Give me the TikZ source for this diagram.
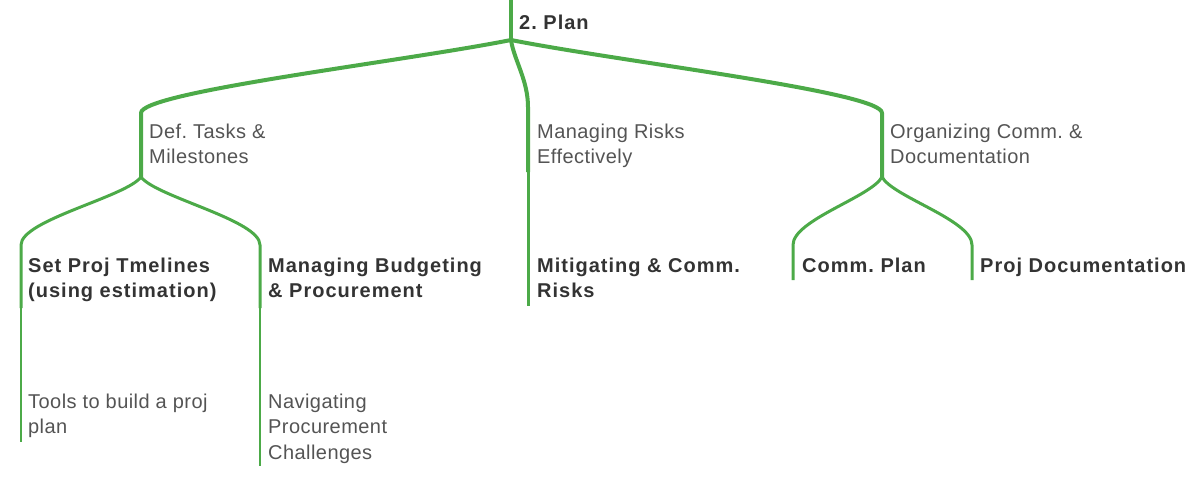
\documentclass[tikz,border=0pt]{standalone}
\usepackage{fontspec}
\setmainfont{Liberation Sans}
\newfontfamily\headfont{Liberation Sans}[LetterSpace=5]
\newfontfamily\softfont{Liberation Sans}[LetterSpace=2.2]
\frenchspacing

\definecolor{branch}{RGB}{76,170,72}
\definecolor{headtext}{RGB}{51,51,51}
\definecolor{softtext}{RGB}{84,84,84}

\tikzset{
  topic/.style={anchor=north west, inner sep=0pt, align=left, text=headtext,
    font=\headfont\fontsize{20}{25.5}\selectfont\bfseries},
  subtopic/.style={topic, text=softtext, font=\softfont\fontsize{20}{25.5}\selectfont},
  rootline/.style={draw=branch, line width=4pt, line join=round},
  midline/.style={draw=branch, line width=3pt, line join=round},
  leafline/.style={draw=branch, line width=2pt}
}

\begin{document}
\begin{tikzpicture}[x=1pt, y=-1pt]
        \useasboundingbox (0,0) rectangle (1200,482);

        % junctions and ends of the branches
        \coordinate (top) at (511,0);
        \coordinate (plan-j) at (511,40);
        \coordinate (tasks-a) at (141,113);
        \coordinate (tasks-j) at (141,177);
        \coordinate (risks-a) at (528,107);
        \coordinate (risks-j) at (528,172);
        \coordinate (docs-a) at (882,113);
        \coordinate (docs-j) at (882,177);
        \coordinate (timeline-a) at (21,245);
        \coordinate (timeline-j) at (21,308);
        \coordinate (budget-a) at (260,245);
        \coordinate (budget-j) at (260,308);
        \coordinate (mitigate-j) at (528,306);
        \coordinate (commplan-a) at (793,245);
        \coordinate (commplan-j) at (793,280);
        \coordinate (projdoc-a) at (972,245);
        \coordinate (projdoc-j) at (972,280);
        \coordinate (tools-j) at (21,442);
        \coordinate (navigate-j) at (260,466);

        % first level
        \draw[rootline] (top) -- (plan-j);
        \draw[rootline] (plan-j) .. controls +(-111,22) and +(0,-21) .. (tasks-a) -- (tasks-j);
        \draw[rootline] (plan-j) .. controls +(3,20) and +(0,-27) .. (risks-a) -- (risks-j);
        \draw[rootline] (plan-j) .. controls +(111,22) and +(0,-21) .. (docs-a) -- (docs-j);

        % second level
        \draw[midline] (tasks-j) .. controls +(-15,20) and +(0,-25) .. (timeline-a) -- (timeline-j);
        \draw[midline] (tasks-j) .. controls +(15,20) and +(0,-25) .. (budget-a) -- (budget-j);
        \draw[midline] (risks-j) -- (mitigate-j);
        \draw[midline] (docs-j) .. controls +(-11,20) and +(0,-25) .. (commplan-a) -- (commplan-j);
        \draw[midline] (docs-j) .. controls +(11,20) and +(0,-25) .. (projdoc-a) -- (projdoc-j);

        % third level
        \draw[leafline] (timeline-j) -- (tools-j);
        \draw[leafline] (budget-j) -- (navigate-j);

        \node[topic] (plan) at (519,14.5) {2. Plan};
        \node[subtopic] (tasks) at (149,123.5) {Def. Tasks \&\\Milestones};
        \node[subtopic] (risks) at (537,123.5) {Managing Risks\\Effectively};
        \node[subtopic] (docs) at (890,123.5) {Organizing Comm. \&\\Documentation};
        \node[topic] (timeline) at (28,257.5) {Set Proj Tmelines\\(using estimation)};
        \node[topic] (budget) at (268,257.5) {Managing Budgeting\\\& Procurement};
        \node[topic] (mitigate) at (537,257.5) {Mitigating \& Comm.\\Risks};
        \node[topic] (commplan) at (802,257.5) {Comm. Plan};
        \node[topic] (projdoc) at (980,257.5) {Proj Documentation};
        \node[subtopic] (tools) at (28,393.5) {Tools to build a proj\\plan};
        \node[subtopic] (navigate) at (268,393.5) {Navigating\\Procurement\\Challenges};
    \end{tikzpicture}
\end{document}
